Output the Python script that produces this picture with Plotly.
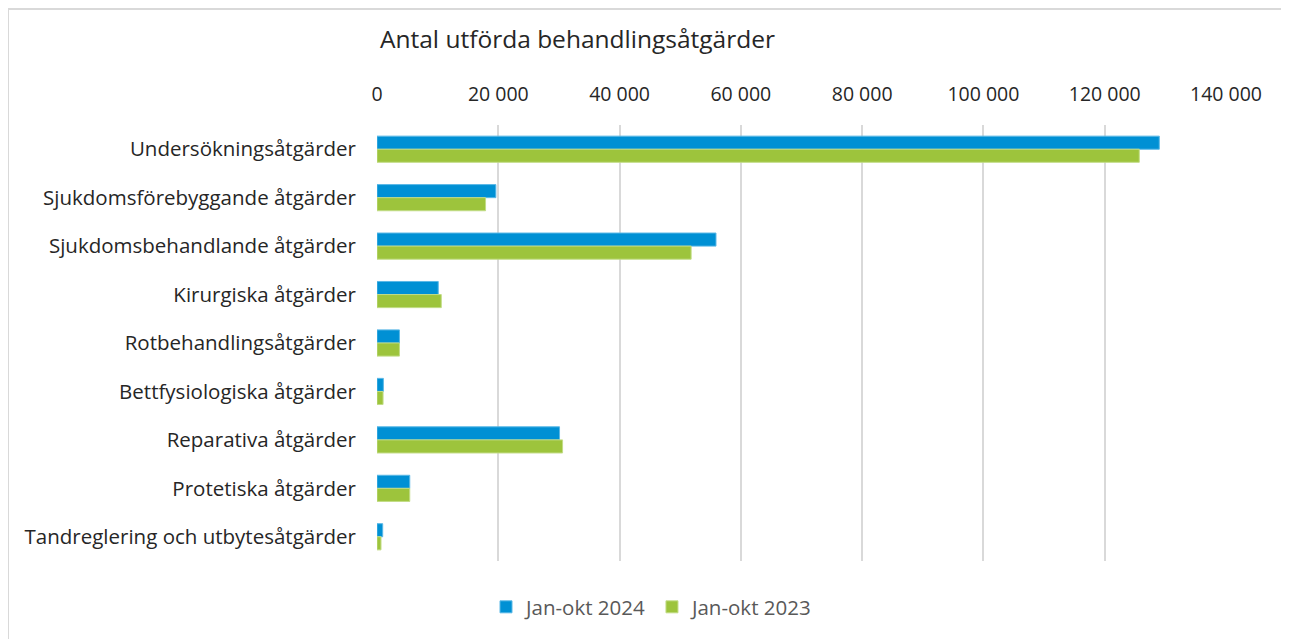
import plotly.graph_objects as go

categories = [
    "Undersökningsåtgärder",
    "Sjukdomsförebyggande åtgärder",
    "Sjukdomsbehandlande åtgärder",
    "Kirurgiska åtgärder",
    "Rotbehandlingsåtgärder",
    "Bettfysiologiska åtgärder",
    "Reparativa åtgärder",
    "Protetiska åtgärder",
    "Tandreglering och utbytesåtgärder",
]
jan_okt_2024 = [129000, 19600, 55900, 10100, 3700, 1050, 30100, 5400, 940]
jan_okt_2023 = [125700, 17900, 51800, 10600, 3700, 1000, 30600, 5400, 660]
tick_vals = [0, 20000, 40000, 60000, 80000, 100000, 120000, 140000]
tick_text = ["0", "20 000", "40 000", "60 000", "80 000", "100 000", "120 000", "140 000"]

FONT = "'Open Sans', Lato, sans-serif"
OFF = 8  # default page body margin
W, H = 1289 - OFF, 639 - OFF
ML, MR, MT, MB = 377 - OFF, 1289 - 1226, 125 - OFF, 639 - 561
pw, ph = W - ML - MR, H - MT - MB

fig = go.Figure()
fig.add_trace(go.Bar(
    y=categories, x=jan_okt_2024, orientation="h", name="Jan-okt 2024",
    marker=dict(color="#0090D4", line=dict(color="#5BB8E6", width=1)),
))
fig.add_trace(go.Bar(
    y=categories, x=jan_okt_2023, orientation="h", name="Jan-okt 2023",
    marker=dict(color="#9DC43C", line=dict(color="#C2DC86", width=1)),
))

fig.update_layout(
    width=W, height=H,
    margin=dict(l=ML, r=MR, t=MT, b=MB),
    paper_bgcolor="white", plot_bgcolor="white",
    barmode="group", bargap=0.46, bargroupgap=0,
    font=dict(family=FONT, size=19, color="#262626"),
    title=dict(text="Antal utförda behandlingsåtgärder", x=(380 - OFF) / W, xanchor="left",
               y=1 - (39 - OFF) / H, yanchor="middle",
               font=dict(family=FONT, size=24.5, color="#262626")),
    xaxis=dict(side="top", range=[0, 140000], tickvals=tick_vals, ticktext=tick_text,
               showgrid=True, gridcolor="#D9D9D9", gridwidth=2, zeroline=False,
               showline=False, ticks="", ticklabelstandoff=19,
               tickfont=dict(family=FONT, size=19.5, color="#262626")),
    yaxis=dict(autorange="reversed", showgrid=False, ticks="", showline=False,
               ticklabelstandoff=20,
               tickfont=dict(family=FONT, size=20.5, color="#262626")),
    legend=dict(orientation="h", x=(652 - OFF) / W, xanchor="center", xref="container",
                y=1 - (607 - OFF) / H, yanchor="middle", yref="container",
                font=dict(family=FONT, size=20.5, color="#595959"),
                itemwidth=30, traceorder="normal"),
    shapes=[
        dict(type="line", xref="paper", yref="paper",
             x0=(8 - 377) / pw, x1=(1300 - 377) / pw,
             y0=(561 - 9) / ph, y1=(561 - 9) / ph,
             line=dict(color="#D9D9D9", width=2)),
        dict(type="line", xref="paper", yref="paper",
             x0=(8 - 377) / pw, x1=(8 - 377) / pw,
             y0=(561 - 9) / ph, y1=(561 - 650) / ph,
             line=dict(color="#D9D9D9", width=2)),
    ],
)
fig.write_html("out.html")
